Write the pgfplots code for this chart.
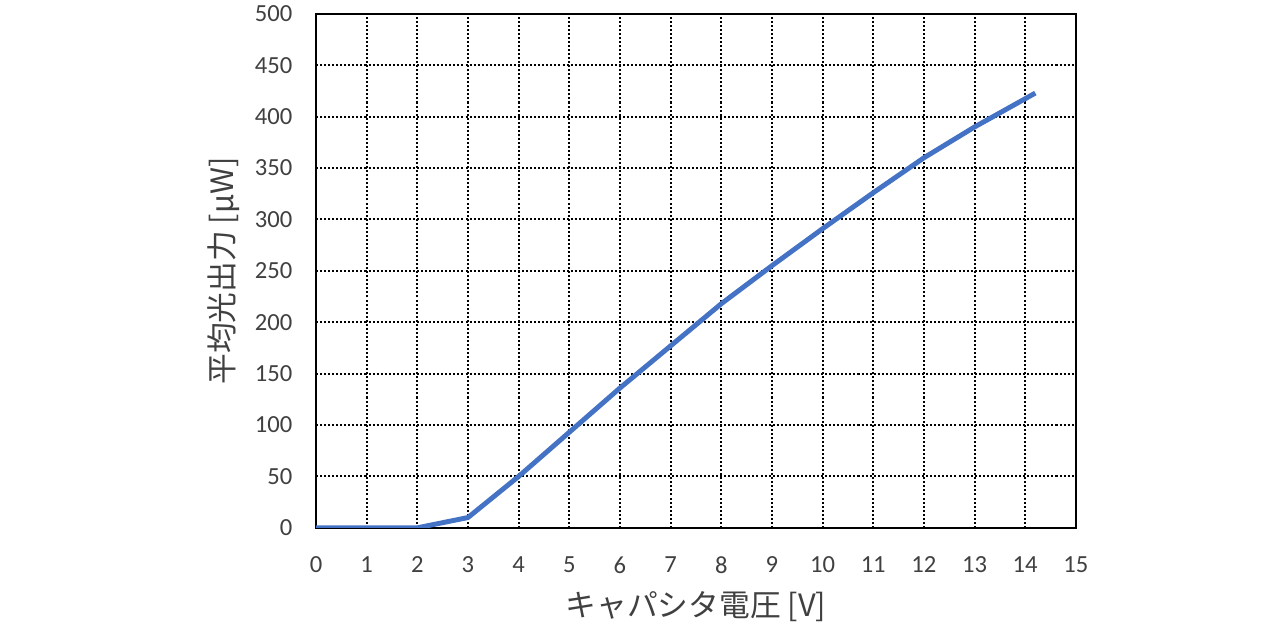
\documentclass[border=0pt]{standalone}
\usepackage{fontspec}
\setmainfont{Carlito}
\newfontfamily\cjk{Noto Sans CJK JP}
\usepackage{pgfplots}
\pgfplotsset{compat=1.18}
\definecolor{lineblue}{HTML}{4472C4}
\definecolor{txtgray}{HTML}{404040}

\begin{document}
\begin{tikzpicture}[x=0.02cm,y=0.02cm]
    \begin{axis}[
        at={(0,0)},
        anchor=origin,
        scale only axis,
        width=15.2cm,
        height=10.28cm,
        xmin=0, xmax=15,
        ymin=0, ymax=500,
        xtick={0,1,...,15},
        ytick={0,50,...,500},
        major tick length=0pt,
        grid=major,
        major grid style={black, line width=1.15pt, dash pattern=on 1.15pt off 1.15pt},
        axis line style={black, line width=1pt},
        tick label style={font=\fontsize{14}{16}\selectfont, text=txtgray},
        /pgf/number format/assume math mode=true,
        xticklabel style={yshift=-13pt},
        yticklabel style={xshift=-10pt},
        xlabel={\cjk キャパシタ電圧 [V]},
        ylabel={\cjk 平均光出力 [μW]},
        label style={font=\fontsize{17.5}{19}\selectfont, text=txtgray},
        xlabel style={yshift=-3pt},
        ylabel style={yshift=2pt},
    ]
        \addplot[lineblue, line width=2.8pt, mark=none, line join=round]
        coordinates{(0,0)(1,0)(2,0)(3,10)(4,50)(5,93)(6,136)(7,177)(8,218)(9,255)(10,291)(11,326)(12,360)(13,390)(14.2,423)};
    \end{axis}
    \useasboundingbox (-316,-106) rectangle (968,526);
\end{tikzpicture}
\end{document}
